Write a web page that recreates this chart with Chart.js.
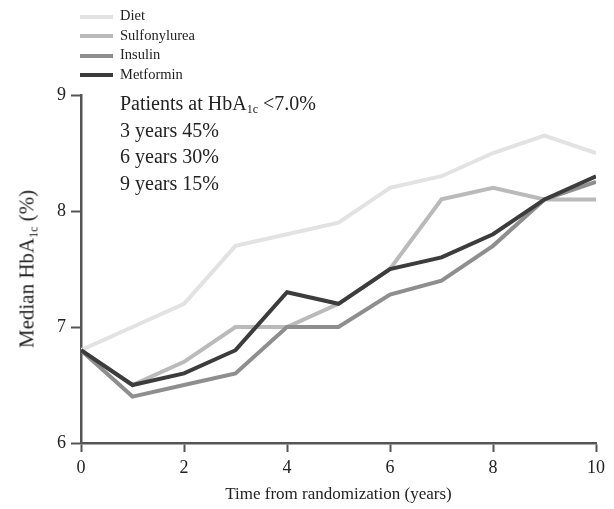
<!DOCTYPE html>
<html>
<head>
<meta charset="utf-8">
<script src="https://cdn.jsdelivr.net/npm/chart.js@4/dist/chart.umd.min.js"></script>
<style>
  html, body { margin: 0; padding: 0; background: #fff; }
  #wrap { position: relative; width: 614px; height: 509px; font-family: 'Liberation Serif', 'DejaVu Serif', serif; color: #222; }
  #chart { position: absolute; left: 0; top: 0; }
  #legend { position: absolute; left: 80px; top: 6px; font-size: 14.5px; }
  #legend .row { height: 19.5px; line-height: 19.5px; white-space: nowrap; }
  #legend .sw { display: inline-block; width: 33px; height: 4px; margin-right: 7px; vertical-align: middle; }
  #note { position: absolute; left: 120px; top: 90px; font-size: 20px; line-height: 26.5px; }
  #note sub { font-size: 12px; vertical-align: -3px; line-height: 0; }
  #ytitle { position: absolute; left: 27px; top: 269px; font-size: 21px; white-space: nowrap;
            transform: translate(-50%, -50%) rotate(-90deg); }
  #ytitle sub { font-size: 12px; vertical-align: -4px; line-height: 0; }
</style>
</head>
<body>
<div id="wrap">
  <canvas id="chart" width="614" height="509"></canvas>
  <div id="legend"></div>
  <div id="note">
    <div>Patients at HbA<sub>1c</sub> &lt;7.0%</div>
    <div>3 years 45%</div>
    <div>6 years 30%</div>
    <div>9 years 15%</div>
  </div>
  <div id="ytitle">Median HbA<sub>1c</sub> (%)</div>
</div>
<script>
// ─── data ───────────────────────────────────────────────────────
const years = [0, 1, 2, 3, 4, 5, 6, 7, 8, 9, 10];
const diet = [6.8, 7.0, 7.2, 7.7, 7.8, 7.9, 8.2, 8.3, 8.5, 8.65, 8.5];
const sulfonylurea = [6.8, 6.5, 6.7, 7.0, 7.0, 7.2, 7.5, 8.1, 8.2, 8.1, 8.1];
const insulin = [6.8, 6.4, 6.5, 6.6, 7.0, 7.0, 7.28, 7.4, 7.7, 8.1, 8.25];
const metformin = [6.8, 6.5, 6.6, 6.8, 7.3, 7.2, 7.5, 7.6, 7.8, 8.1, 8.3];
const xTicks = [0, 2, 4, 6, 8, 10];
const yTicks = [6, 7, 8, 9];

const axisColor = '#555';
const textColor = '#222';
const serif = "'Liberation Serif', 'DejaVu Serif', serif";

function series(label, values, color, order) {
  return {
    label,
    data: years.map((x, i) => ({ x, y: values[i] })),
    borderColor: color,
    backgroundColor: color,
    borderWidth: 4,
    pointRadius: 0,
    tension: 0,
    fill: false,
    order,
  };
}

const datasets = [
  series('Diet', diet, '#e2e2e2', 3),
  series('Sulfonylurea', sulfonylurea, '#bababa', 2),
  series('Insulin', insulin, '#8e8e8e', 1),
  series('Metformin', metformin, '#3c3c3c', 0),
];

function scaleBase(tickLength) {
  return {
    type: 'linear',
    grid: { drawOnChartArea: false, drawTicks: true, tickLength, tickColor: axisColor, tickWidth: 2 },
    border: { display: true, color: axisColor, width: 2.5 },
  };
}

const chart = new Chart(document.getElementById('chart'), {
  type: 'line',
  data: { datasets },
  options: {
    responsive: false,
    animation: false,
    layout: { padding: { top: 95, right: 18, left: 0, bottom: 0 } },
    plugins: { legend: { display: false }, tooltip: { enabled: false } },
    scales: {
      x: {
        ...scaleBase(9),
        min: 0, max: 10,
        afterBuildTicks: (s) => { s.ticks = xTicks.map(v => ({ value: v })); },
        afterFit: (s) => { s.height = 66; },
        ticks: { color: textColor, font: { family: serif, size: 18 }, padding: 5 },
        title: { display: true, text: 'Time from randomization (years)', color: textColor,
                 font: { family: serif, size: 17 }, padding: { top: 2, bottom: 4 } },
      },
      y: {
        ...scaleBase(10),
        min: 6, max: 9,
        afterBuildTicks: (s) => { s.ticks = yTicks.map(v => ({ value: v })); },
        afterFit: (s) => { s.width = 81; },
        ticks: { color: textColor, font: { family: serif, size: 18 }, padding: 5 },
      },
    },
  },
});

// legend in the original order (Diet on top)
const legend = document.getElementById('legend');
chart.data.datasets.forEach(ds => {
  const row = document.createElement('div');
  row.className = 'row';
  const sw = document.createElement('span');
  sw.className = 'sw';
  sw.style.background = ds.borderColor;
  row.appendChild(sw);
  row.appendChild(document.createTextNode(ds.label));
  legend.appendChild(row);
});
</script>
</body>
</html>
